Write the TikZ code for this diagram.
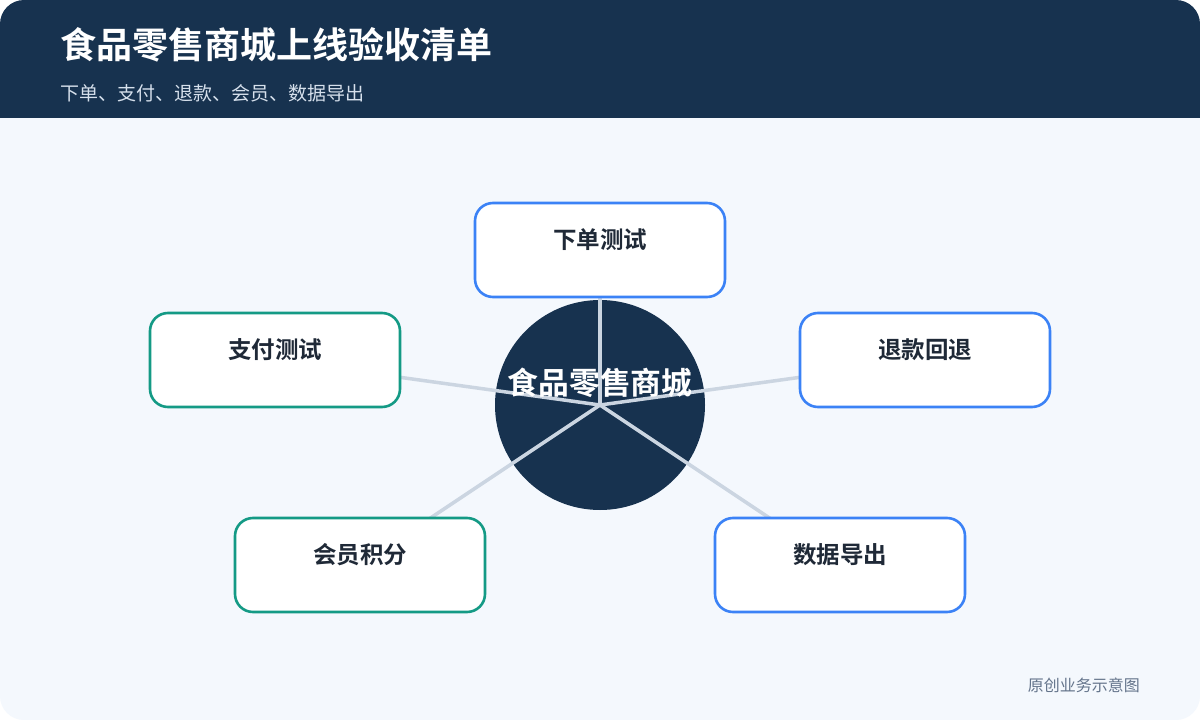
\documentclass[tikz,border=0pt]{standalone}
\usepackage{fontspec}
\setmainfont{Noto Sans CJK SC}
\newfontfamily\cjkbold{Noto Sans CJK SC Bold}
\usepackage{tikz}
\usetikzlibrary{positioning}
\definecolor{navy}{HTML}{17324F}
\definecolor{pagebg}{HTML}{F4F8FD}
\definecolor{spoke}{HTML}{CBD5E1}
\definecolor{blueline}{HTML}{3B82F6}
\definecolor{tealline}{HTML}{149A85}
\definecolor{inktext}{HTML}{1F2937}
\definecolor{subtext}{HTML}{D6E0EC}
\definecolor{foot}{HTML}{64748B}
\tikzset{
  card/.style = {rectangle, rounded corners=18pt, fill=white, line width=2.6pt,
    minimum width=250pt, minimum height=94pt, inner sep=0pt},
  bluecard/.style = {card, draw=blueline},
  tealcard/.style = {card, draw=tealline},
  cardtext/.style = {font=\cjkbold\fontsize{23.5}{28}\selectfont, text=inktext,
    inner sep=0pt, yshift=10pt},
  spokeline/.style = {draw=spoke, line width=3.5pt}
}

\begin{document}
\begin{tikzpicture}[x=1pt, y=-1pt]
\useasboundingbox (0,0) rectangle (1200,720);
\fill[white] (0,0) rectangle (1200,720);
\fill[pagebg, rounded corners=24pt] (0,0) rectangle (1200,720);
\begin{scope}
  \clip[rounded corners=24pt] (0,0) rectangle (1200,720);
  \fill[navy] (0,0) rectangle (1200,118);
\end{scope}
\node[anchor=west, text=white, font=\cjkbold\fontsize{36}{42}\selectfont, inner sep=0pt]
  (title) at (60,45) {食品零售商城上线验收清单};
\node[anchor=west, text=subtext, font=\fontsize{19}{23}\selectfont, inner sep=0pt]
  (subtitle) at (60,93) {下单、支付、退款、会员、数据导出};

% hub and spokes
\node[circle, fill=navy, minimum size=210pt, inner sep=0pt] (hub) at (600,405) {};
\coordinate (c-order) at (600,250);
\coordinate (c-pay) at (275,360);
\coordinate (c-refund) at (925,360);
\coordinate (c-member) at (360,565);
\coordinate (c-export) at (840,565);
\foreach \b in {order, pay, refund, member, export}
  \draw[spokeline] (hub.center) -- (c-\b);

% cards
\node[bluecard, label={[cardtext]center:下单测试}] (order) at (c-order) {};
\node[tealcard, label={[cardtext]center:支付测试}] (pay) at (c-pay) {};
\node[bluecard, label={[cardtext]center:退款回退}] (refund) at (c-refund) {};
\node[tealcard, label={[cardtext]center:会员积分}] (member) at (c-member) {};
\node[bluecard, label={[cardtext]center:数据导出}] (export) at (c-export) {};

\node[text=white, font=\cjkbold\fontsize{30.8}{36}\selectfont, inner sep=0pt]
  (hubtext) at (600,383) {食品零售商城};
\node[anchor=east, text=foot, font=\fontsize{16}{19}\selectfont, inner sep=0pt]
  (footer) at (1140,685) {原创业务示意图};
\end{tikzpicture}
\end{document}
